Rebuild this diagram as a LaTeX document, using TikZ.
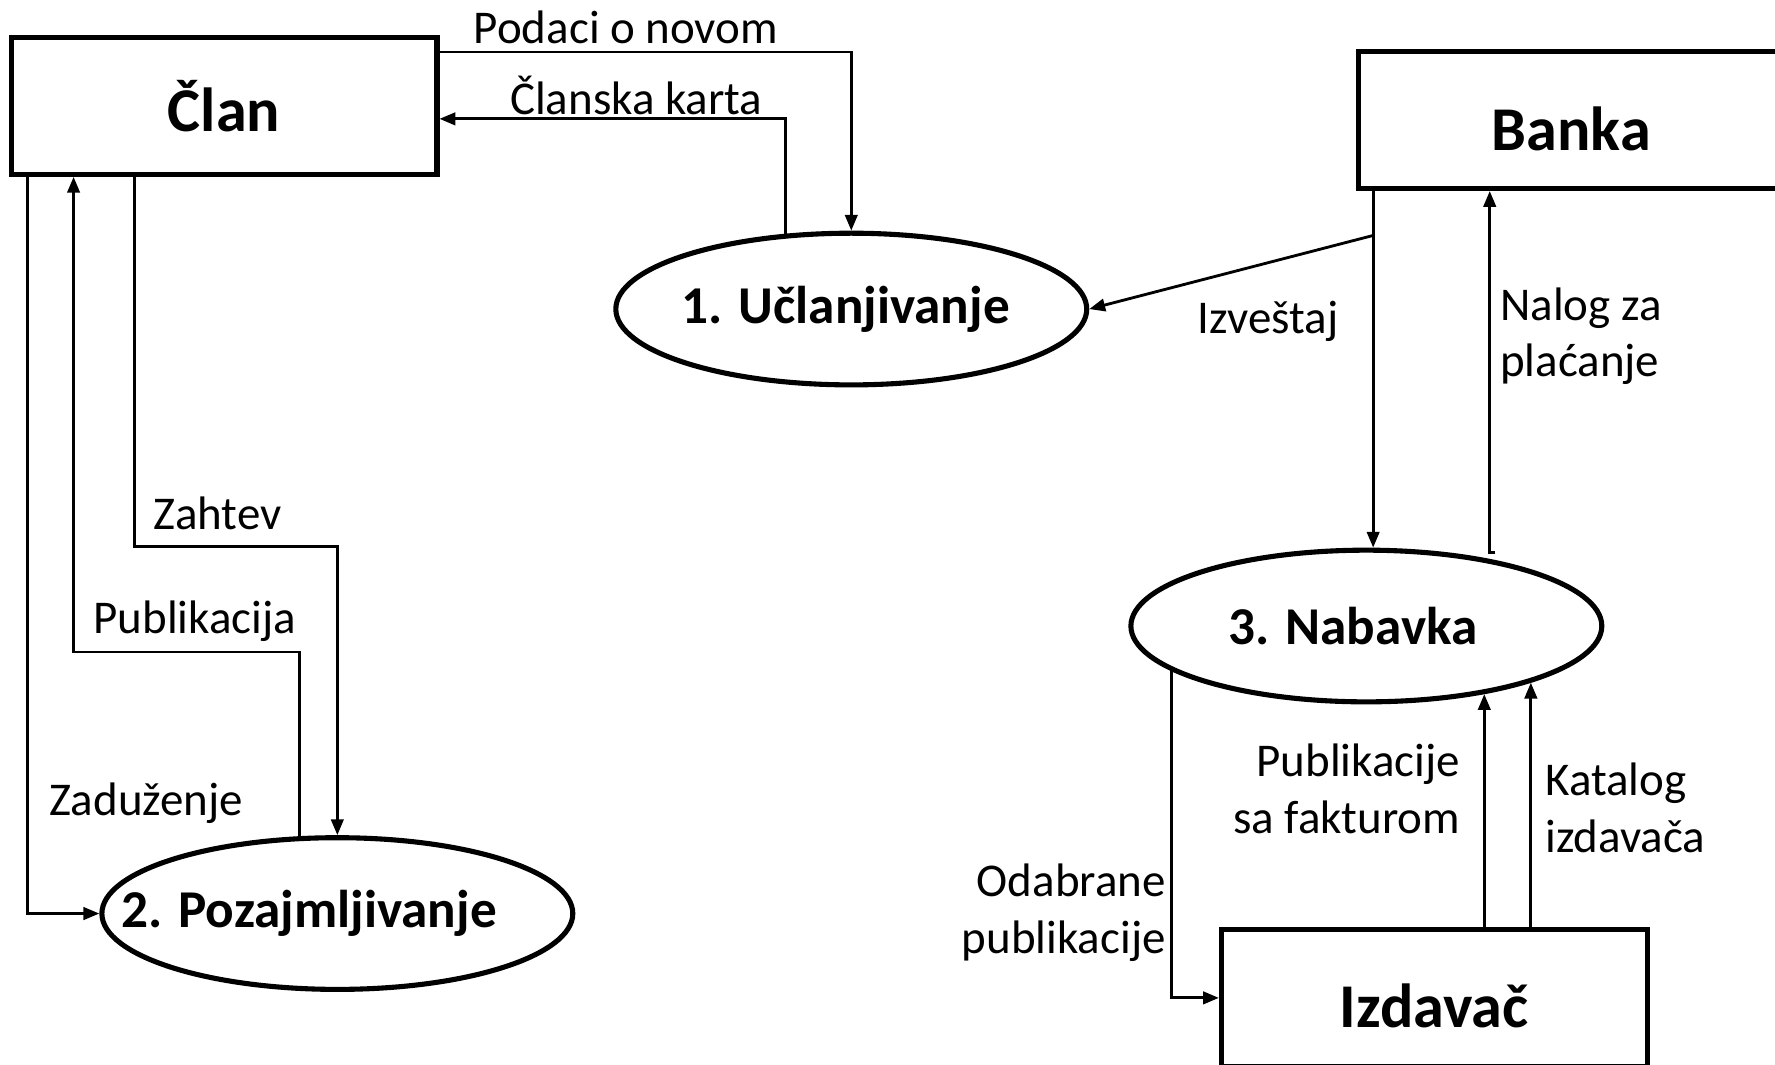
\documentclass[tikz,border=0pt]{standalone}
\usepackage{fontspec}
\setmainfont{Carlito}
\usetikzlibrary{arrows.meta,shapes.geometric}
\tikzset{
  box/.style={draw, line width=4.5pt, minimum width=376pt, minimum height=121pt, inner sep=0pt, font=\fontsize{55}{60}\selectfont\bfseries},
  proc/.style={draw, ellipse, line width=4.5pt, minimum width=416pt, minimum height=134pt, inner sep=0pt},
  ptext/.style={inner sep=0pt, font=\fontsize{47}{50}\selectfont\bfseries},
  flow/.style={line width=2.5pt, -{Triangle[length=14pt,width=11pt]}},
  lbl/.style={font=\fontsize{41.5}{50}\selectfont, inner sep=0pt},
}
\begin{document}
\begin{tikzpicture}[x=1pt,y=-1pt]
\clip (0,0) rectangle (1568,940);
\fill[white] (0,0) rectangle (1568,940);

% entities
\node[box] (clan) at (198,93.5) {Član};
\node[box, text height=54pt, text depth=0pt] (banka) at (1388,106) {Banka};
\node[box, text height=52pt, text depth=0pt] (izd) at (1267,881.5) {Izdavač};

% processes
\node[proc] (e1) at (752,273) {};
\node[proc] (e2) at (298,807) {};
\node[proc] (e3) at (1207,553) {};
\node[ptext] (t1) at (747,273) {1. Učlanjivanje};
\node[ptext] (t2) at (273,807) {2. Pozajmljivanje};
\node[ptext] (t3) at (1195,553) {3. Nabavka};

% helper coordinates
\coordinate (pubturn) at (65,576);
\coordinate (zturn) at (119,483);
\coordinate (zadx) at (24,0);
\coordinate (bx) at (1213,0);
\coordinate (izvstart) at (1213,208);
\coordinate (nalogend) at (1316,488);

% Clan <-> Uclanjivanje
\draw[flow] (clan.east |- 0,46) -| (e1.north);
\draw[flow] (e1.131) |- (clan.east |- 0,105);

% Clan <-> Pozajmljivanje
\draw[flow] (zadx |- clan.south) |- (e2.west);
\draw[flow] (e2.116.5) |- (pubturn) -- (pubturn |- clan.south);
\draw[flow] (zturn |- clan.south) -- (zturn) -| (e2.north);

% Banka <-> Nabavka, Izvestaj
\draw[flow] (bx |- banka.south) -- (bx |- e3.north);
\draw[flow] (izvstart) -- (e1.east);
\draw[flow] ([xshift=5pt]nalogend) -- (nalogend) -- (nalogend |- banka.south);

% Nabavka <-> Izdavac
\draw[flow] (e3.193.4) |- (izd.west);
\draw[flow] (e3.-30.5 |- izd.north) -- (e3.-30.5);
\draw[flow] (e3.-19.7 |- izd.north) -- (e3.-19.7);

% labels
\node[lbl, anchor=base] (lpod) at (553,38) {Podaci o novom};
\node[lbl, anchor=base] (lcl) at (562,101) {Članska karta};
\node[lbl, anchor=base] (lizv) at (1120,295) {Izveštaj};
\node[lbl, anchor=base west] (lnal) at (1325,283) {\begin{tabular}[t]{@{}l@{}}Nalog za\\plaćanje\end{tabular}};
\node[lbl, anchor=base] (lzah) at (192,468) {Zahtev};
\node[lbl, anchor=base] (lpub) at (172,560) {Publikacija};
\node[lbl, anchor=base] (lzad) at (129,720) {Zaduženje};
\node[lbl, anchor=base east] (lpsf) at (1290,686) {\begin{tabular}[t]{@{}r@{}}Publikacije\\sa fakturom\end{tabular}};
\node[lbl, anchor=base west] (lkat) at (1365,703) {\begin{tabular}[t]{@{}l@{}}Katalog\\izdavača\end{tabular}};
\node[lbl, anchor=base east] (lodb) at (1030,792) {\begin{tabular}[t]{@{}r@{}}Odabrane\\publikacije\end{tabular}};
\end{tikzpicture}
\end{document}
